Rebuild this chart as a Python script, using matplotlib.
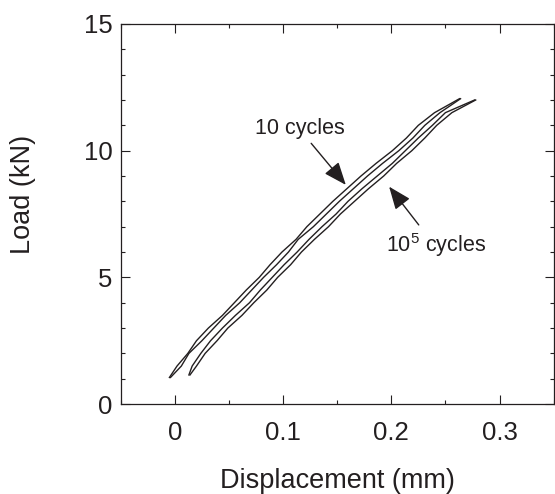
import matplotlib
matplotlib.use("Agg")
import matplotlib.pyplot as plt

plt.rcParams['font.family'] = ['Liberation Sans', 'DejaVu Sans']
plt.rcParams['mathtext.fontset'] = 'custom'
plt.rcParams['mathtext.rm'] = 'Liberation Sans'

INK = '#231f20'

# 10 cycles loop
load_10 = [1.05, 1.5, 2.0, 2.5, 3.0, 3.5, 4.0, 4.5, 5.0, 5.5, 6.0, 6.5,
           7.0, 7.5, 8.0, 8.5, 9.0, 9.5, 10.0, 10.5, 11.0, 11.5, 12.05]
disp_10_up = [-0.005, 0.002, 0.012, 0.020, 0.031, 0.044, 0.055, 0.066, 0.078,
              0.088, 0.099, 0.112, 0.122, 0.134, 0.146, 0.159, 0.172, 0.186,
              0.201, 0.214, 0.225, 0.240, 0.263]
disp_10_down = [-0.004, 0.006, 0.013, 0.025, 0.036, 0.047, 0.060, 0.071, 0.082,
                0.094, 0.105, 0.114, 0.128, 0.140, 0.152, 0.165, 0.178, 0.192,
                0.207, 0.220, 0.231, 0.245, 0.264]

# 10^5 cycles loop
load_1e5 = [1.15, 1.5, 2.0, 2.5, 3.0, 3.5, 4.0, 4.5, 5.0, 5.5, 6.0, 6.5,
            7.0, 7.5, 8.0, 8.5, 9.0, 9.5, 10.0, 10.5, 11.0, 11.5, 12.0]
disp_1e5_up = [0.013, 0.016, 0.024, 0.033, 0.044, 0.056, 0.069, 0.079, 0.090,
               0.101, 0.113, 0.124, 0.136, 0.149, 0.160, 0.173, 0.187, 0.201,
               0.213, 0.225, 0.238, 0.250, 0.277]
disp_1e5_down = [0.014, 0.020, 0.028, 0.039, 0.049, 0.062, 0.073, 0.085, 0.095,
                 0.107, 0.117, 0.129, 0.142, 0.153, 0.166, 0.179, 0.193, 0.205,
                 0.219, 0.231, 0.242, 0.256, 0.278]

fig = plt.figure(figsize=(5.55, 4.94), dpi=100)
ax = fig.add_axes([0.2175, 0.182, 0.78, 0.7695])

for x, y in [(disp_10_up, load_10), (disp_10_down, load_10),
             (disp_1e5_up, load_1e5), (disp_1e5_down, load_1e5)]:
    ax.plot(x, y, '-', color=INK, lw=1.0)

ax.set_xlim(-0.05, 0.35)
ax.set_ylim(0, 15)
ax.set_xticks([0, 0.1, 0.2, 0.3])
ax.set_xticklabels(['0', '0.1', '0.2', '0.3'])
ax.set_xticks([-0.05, 0.05, 0.15, 0.25, 0.35], minor=True)
ax.set_yticks([0, 5, 10, 15])
ax.set_yticks(range(0, 16), minor=True)

ax.tick_params(which='both', direction='in', top=True, right=True,
               colors=INK, width=0.8)
ax.tick_params(which='major', length=6.5, labelsize=18.5)
ax.tick_params(which='minor', length=3)
ax.tick_params(axis='x', which='major', pad=12)
ax.tick_params(axis='y', which='major', pad=6)
for s in ax.spines.values():
    s.set_color(INK)
    s.set_linewidth(0.9)

ax.set_xlabel('Displacement (mm)', fontsize=19.5, color=INK, labelpad=17)
ax.set_ylabel('Load (kN)', fontsize=19.5, color=INK)
ax.yaxis.set_label_coords(-0.195, 0.551)

arrow = dict(arrowstyle='-|>,head_length=1.0,head_width=0.4',
             mutation_scale=14, color=INK, lw=1.0, shrinkA=0, shrinkB=0)
ax.text(0.1153, 10.88, '10 cycles', fontsize=15.5, color=INK,
        ha='center', va='center')
ax.annotate('', xy=(0.158, 8.65), xytext=(0.126, 10.29), arrowprops=arrow)
ax.text(0.195, 6.28, r'10$^{\mathregular{5}}$ cycles', fontsize=15.5, color=INK,
        ha='left', va='center')
ax.annotate('', xy=(0.198, 8.58), xytext=(0.2254, 7.07), arrowprops=arrow)

fig.savefig('out.png', dpi=100)
